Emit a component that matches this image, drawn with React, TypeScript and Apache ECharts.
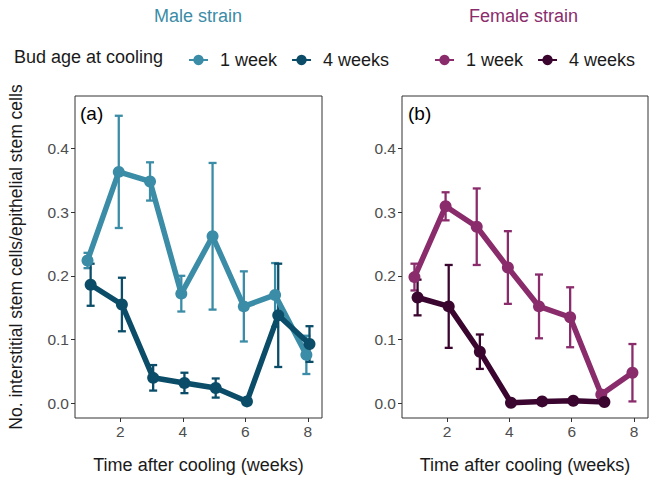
import React, { useEffect, useRef } from "react";
import * as echarts from "echarts";

const weeks = [1, 2, 3, 4, 5, 6, 7, 8];
const maleWeek1Mean = [0.224, 0.363, 0.348, 0.172, 0.262, 0.152, 0.17, 0.076];
const maleWeek1SE = [0.012, 0.088, 0.03, 0.028, 0.115, 0.055, 0.05, 0.03];
const maleWeek4Mean = [0.186, 0.155, 0.04, 0.032, 0.024, 0.003, 0.138, 0.093];
const maleWeek4SE = [0.033, 0.042, 0.02, 0.016, 0.015, 0, 0.081, 0.028];
const femaleWeek1Mean = [0.198, 0.309, 0.277, 0.213, 0.152, 0.135, 0.014, 0.048];
const femaleWeek1SE = [0.021, 0.022, 0.06, 0.057, 0.05, 0.047, 0.005, 0.045];
const femaleWeek4Mean = [0.166, 0.152, 0.081, 0.001, 0.003, 0.004, 0.002, null];
const femaleWeek4SE = [0.028, 0.065, 0.027, 0, 0, 0, 0, null];
const yTicks = [0, 0.1, 0.2, 0.3, 0.4];
const xTicks = [2, 4, 6, 8];
const legendLabels: Record<string, string> = { M1: "1 week", M4: "4 weeks", F1: "1 week", F4: "4 weeks" };

const C_M1 = "#3b8ca6";
const C_M4 = "#0b4d68";
const C_F1 = "#8a2c6c";
const C_F4 = "#3a0630";
const FONT = "Liberation Sans, Arial, sans-serif";

function pts(mean: (number | null)[], dodge: number) {
  const out: number[][] = [];
  weeks.forEach((w, i) => {
    const m = mean[i];
    if (m !== null && m !== undefined) out.push([w + dodge, m]);
  });
  return out;
}
function errs(mean: (number | null)[], se: (number | null)[], dodge: number) {
  const out: number[][] = [];
  weeks.forEach((w, i) => {
    const m = mean[i];
    const s = se[i];
    if (m !== null && m !== undefined && s !== null && s !== undefined && s > 0)
      out.push([w + dodge, m - s, m + s]);
  });
  return out;
}

const errorRender = (params: any, api: any) => {
  const x = api.value(0);
  const lo = api.value(1);
  const hi = api.value(2);
  const top = api.coord([x, hi]);
  const bot = api.coord([x, lo]);
  const w = 4;
  const style = { stroke: api.visual("color"), lineWidth: 2.3 };
  return {
    type: "group",
    children: [
      { type: "line", shape: { x1: top[0], y1: top[1], x2: bot[0], y2: bot[1] }, style },
      { type: "line", shape: { x1: top[0] - w, y1: top[1], x2: top[0] + w, y2: top[1] }, style },
      { type: "line", shape: { x1: bot[0] - w, y1: bot[1], x2: bot[0] + w, y2: bot[1] }, style },
    ],
  };
};

function lineSeries(name: string, data: number[][], color: string, idx: number) {
  return {
    name,
    type: "line",
    xAxisIndex: idx,
    yAxisIndex: idx,
    data,
    symbol: "circle",
    symbolSize: 12,
    showSymbol: true,
    lineStyle: { width: 5.5, color },
    itemStyle: { color },
    z: 3,
  };
}
function errSeries(data: number[][], color: string, idx: number) {
  return {
    type: "custom",
    xAxisIndex: idx,
    yAxisIndex: idx,
    data,
    renderItem: errorRender,
    itemStyle: { color },
    encode: { x: 0, y: [1, 2] },
    z: 2,
    silent: true,
  };
}

function xAxis(idx: number) {
  return {
    type: "value",
    gridIndex: idx,
    min: 0.55,
    max: 8.45,
    splitLine: { show: false },
    axisLine: { show: false, onZero: false },
    axisTick: { show: true, length: 4, lineStyle: { color: "#333" }, customValues: xTicks },
    axisLabel: { color: "#4d4d4d", fontSize: 15.5, fontFamily: FONT, margin: 5, customValues: xTicks },
    name: "Time after cooling (weeks)",
    nameLocation: "middle",
    nameGap: 38,
    nameTextStyle: { color: "#1a1a1a", fontSize: 18, fontFamily: FONT },
  };
}
function yAxis(idx: number, withName: boolean) {
  return {
    type: "value",
    gridIndex: idx,
    min: -0.023,
    max: 0.482,
    splitLine: { show: false },
    axisLine: { show: false, onZero: false },
    axisTick: { show: true, length: 4, lineStyle: { color: "#333" }, customValues: yTicks },
    axisLabel: {
      color: "#4d4d4d",
      fontSize: 15.5,
      fontFamily: FONT,
      margin: 6,
      customValues: yTicks,
      formatter: (v: number) => v.toFixed(1),
    },
    name: withName ? "No. interstitial stem cells/epithelial stem cells" : "",
    nameLocation: "middle",
    nameGap: 50,
    nameTextStyle: { color: "#1a1a1a", fontSize: 17.5, fontFamily: FONT },
  };
}

function legend(data: string[], left: number) {
  return {
    data,
    left,
    top: 46,
    orient: "horizontal",
    itemWidth: 19,
    itemHeight: 13,
    itemGap: 14,
    formatter: (n: string) => legendLabels[n],
    textStyle: { fontSize: 18, fontFamily: FONT, color: "#1a1a1a", padding: [0, 0, 0, 7] },
    selectedMode: false,
  };
}

export default function App() {
  const ref = useRef<HTMLDivElement>(null);
  useEffect(() => {
    document.body.style.margin = "0";
    if (!ref.current) return;
    const chart = echarts.init(ref.current, null, { renderer: "svg" });
    chart.setOption({
      animation: false,
      backgroundColor: "#ffffff",
      grid: [
        { left: 75, top: 96, width: 247, height: 333, show: true, borderColor: "#333", borderWidth: 1, backgroundColor: "transparent" },
        { left: 402, top: 96, width: 246, height: 333, show: true, borderColor: "#333", borderWidth: 1, backgroundColor: "transparent" },
      ],
      xAxis: [xAxis(0), xAxis(1)],
      yAxis: [yAxis(0, true), yAxis(1, false)],
      legend: [legend(["M1", "M4"], 183), legend(["F1", "F4"], 429)],
      graphic: [
        { type: "text", left: 154, top: 7, style: { text: "Male strain", fill: C_M1, fontSize: 18, fontFamily: FONT } },
        { type: "text", left: 469, top: 7, style: { text: "Female strain", fill: C_F1, fontSize: 18, fontFamily: FONT } },
        { type: "text", left: 14, top: 48, style: { text: "Bud age at cooling", fill: "#1a1a1a", fontSize: 18, fontFamily: FONT } },
        { type: "text", left: 80, top: 104, style: { text: "(a)", fill: "#000", fontSize: 19, fontFamily: FONT } },
        { type: "text", left: 408, top: 104, style: { text: "(b)", fill: "#000", fontSize: 19, fontFamily: FONT } },
      ],
      series: [
        errSeries(errs(maleWeek1Mean, maleWeek1SE, -0.05), C_M1, 0),
        errSeries(errs(maleWeek4Mean, maleWeek4SE, 0.05), C_M4, 0),
        lineSeries("M1", pts(maleWeek1Mean, -0.05), C_M1, 0),
        lineSeries("M4", pts(maleWeek4Mean, 0.05), C_M4, 0),
        errSeries(errs(femaleWeek1Mean, femaleWeek1SE, -0.05), C_F1, 1),
        errSeries(errs(femaleWeek4Mean, femaleWeek4SE, 0.05), C_F4, 1),
        lineSeries("F1", pts(femaleWeek1Mean, -0.05), C_F1, 1),
        lineSeries("F4", pts(femaleWeek4Mean, 0.05), C_F4, 1),
      ],
    });
    return () => chart.dispose();
  }, []);
  return <div ref={ref} style={{ width: 652, height: 479 }} />;
}
